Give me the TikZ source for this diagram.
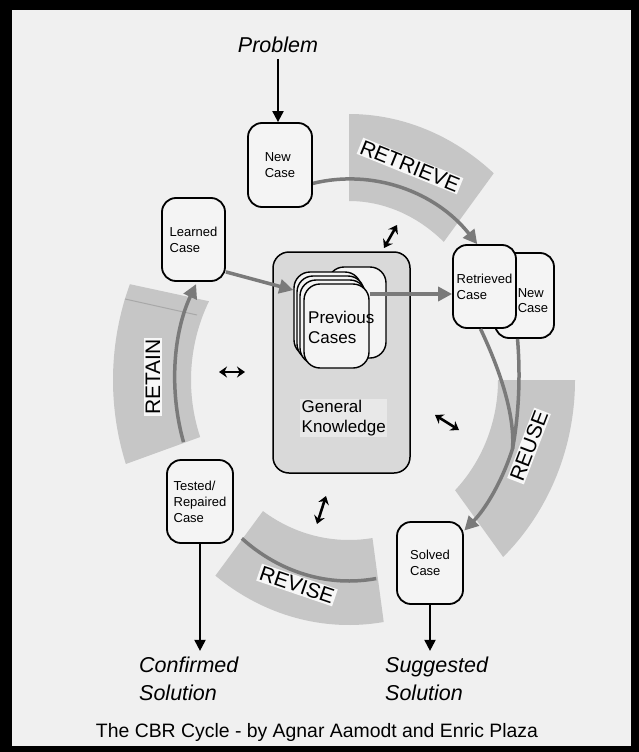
\documentclass[tikz,border=0pt]{standalone}
\usepackage{fontspec}
\setmainfont{Liberation Sans}
\usetikzlibrary{arrows.meta,calc}

\definecolor{pagebg}{HTML}{F0F0F0}
\definecolor{bandgray}{HTML}{C6C6C6}
\definecolor{gkfill}{HTML}{D9D9D9}
\definecolor{gktext}{HTML}{E8E8E8}
\definecolor{flowgray}{HTML}{7A7A7A}
\definecolor{boxfill}{HTML}{F4F4F4}
\definecolor{labelbg}{HTML}{F7F7F7}
\definecolor{seamgray}{HTML}{A8A8A8}

\begin{document}
\begin{tikzpicture}[x=1pt,y=-1pt,
  casebox/.style={draw=black, line width=1.8pt, rounded corners=14pt, fill=boxfill,
    align=left, inner sep=0pt, font=\fontsize{13}{16}\selectfont},
  stack/.style={draw=black, line width=1.4pt, rounded corners=16pt, fill=boxfill, inner sep=0pt},
  band/.style={fill=bandgray, draw=none},
  bandlabel/.style={fill=labelbg, inner sep=1.5pt, font=\fontsize{21}{24}\selectfont},
  flow/.style={draw=flowgray, line width=3.5pt, -{Triangle[length=14pt,width=14pt]}},
  flowline/.style={draw=flowgray, line width=3.5pt},
  blk/.style={draw=black, line width=2pt, -{Triangle[length=11pt,width=11pt]}},
  dbl/.style={draw=black, line width=2.6pt, {Stealth[length=8pt,width=11pt]}-{Stealth[length=8pt,width=11pt]}},
  outtext/.style={font=\fontsize{21.5}{28}\selectfont\itshape, align=left, inner sep=0pt},
  bigtext/.style={font=\fontsize{17}{20}\selectfont, align=left, inner sep=0pt}
]
\useasboundingbox (0,0) rectangle (639,752);

% frame and page
\fill[black] (0,0) rectangle (639,752);
\fill[pagebg] (12,10) rectangle (631,746);

% centre of the cycle
\coordinate (C) at (349,380);

% the four phase bands
\fill[band] ($(C)+(-90:149 and 179)$) arc[start angle=-90, end angle=-50.5, x radius=149, y radius=179]
  -- ($(C)+(-51:230 and 266)$) arc[start angle=-51, end angle=-90, x radius=230, y radius=266] -- cycle;
\fill[band] ($(C)+(0:149 and 157)$) arc[start angle=0, end angle=44.6, x radius=149, y radius=157]
  -- ($(C)+(47:226 and 242)$) arc[start angle=47, end angle=0, x radius=226, y radius=242] -- cycle;
\fill[band] ($(C)+(81:150 and 160)$) arc[start angle=81, end angle=125, x radius=150, y radius=160]
  -- ($(C)+(127:222 and 245)$) arc[start angle=127, end angle=81, x radius=222, y radius=245] -- cycle;
\fill[band] ($(C)+(-152.4:158 and 170)$) arc[start angle=-152.4, end angle=-199.6, x radius=158, y radius=170]
  -- ($(C)+(-199:236 and 258)$) arc[start angle=-199, end angle=-158.2, x radius=236, y radius=258] -- cycle;
\draw[seamgray, line width=1pt] (125,299) -- (197,315);

% general knowledge container
\node[draw=black, line width=1.5pt, rounded corners=16pt, fill=gkfill,
      minimum width=137pt, minimum height=221pt] (gk) at (341.5,362.5) {};
\node[bigtext, anchor=west, fill=gktext, inner sep=1.5pt] (gkt) at (300,418) {General\\Knowledge};

% stack of previous cases
\node[stack, minimum width=58pt, minimum height=91pt] (pcA) at (357,312.5) {};
\node[stack, minimum width=67pt, minimum height=84pt] (pcB) at (327.5,314) {};
\node[stack, minimum width=67pt, minimum height=84pt] (pcC) at (330.5,318) {};
\node[stack, minimum width=66pt, minimum height=84pt] (pcD) at (333,322) {};
\node[stack, minimum width=65pt, minimum height=84pt] (pcE) at (336.5,326) {};
\node[bigtext, anchor=west] (pct) at (308,327) {Previous\\Cases};

% cycle flow arrows
\draw[flow] ($(C)+(-102:174 and 201)$) arc[start angle=-102, end angle=-42.5, x radius=174, y radius=201];
\coordinate (rj) at ($(C)+(20:174 and 201)$);
\draw[flow] (rj) arc[start angle=20, end angle=48.5, x radius=174, y radius=201];
\draw[flowline] ($(C)+(81:174 and 201)$) arc[start angle=81, end angle=128, x radius=174, y radius=201];
\draw[flow] ($(C)+(162:174 and 201)$) arc[start angle=162, end angle=208.5, x radius=174, y radius=201];

% phase labels
\node[bandlabel, rotate=-22] (lretrieve) at (410,166) {RETRIEVE};
\node[bandlabel, rotate=69] (lreuse) at (529,446) {REUSE};
\node[bandlabel, rotate=-18.7] (lrevise) at (297,585) {REVISE};
\node[bandlabel, rotate=90] (lretain) at (153,377) {RETAIN};

% case boxes
\node[casebox, minimum width=59pt, minimum height=85pt] (nc2) at (524.5,295.5) {};
\node[casebox, minimum width=63pt, minimum height=83pt] (rc) at (484.5,286.5) {Retrieved\\Case};
\node[font=\fontsize{13}{15}\selectfont, align=left, inner sep=0pt] (nc2t) at (533,301) {New\\Case};
\node[casebox, minimum width=64pt, minimum height=84pt] (nc) at (280,165) {New\\Case};
\node[casebox, minimum width=63pt, minimum height=83pt] (lc) at (193.5,239.5) {Learned\\Case};
\node[casebox, minimum width=66pt, minimum height=83pt] (tc) at (200,501.5) {Tested/\\Repaired\\Case};
\node[casebox, minimum width=66pt, minimum height=82pt] (sc) at (430,563) {Solved\\Case};

% reuse branches joining into the flow
\draw[flowline] ($(rc.south)+(-4,0)$) .. controls (500,370) and (515,415) .. (rj);
\draw[flowline] ($(nc2.south)+(-7,0)$) .. controls (521,380) and (518,420) .. (rj);

% straight flow arrows through the case base
\draw[flow] (lc.-45) -- (pcB.145);
\coordinate (rin) at ($(rc.west)+(0,7.5)$);
\draw[flow] (pcE.east |- rin) -- (rin);

% inputs and outputs
\node[outtext] (prob) at (278,45) {Problem};
\node[outtext, anchor=west] (conf) at (139,679) {Confirmed\\Solution};
\node[outtext, anchor=west] (sugg) at (385,679) {Suggested\\Solution};
\draw[blk, shorten <=6pt] (prob.south) -- (prob.south |- nc.north);
\draw[blk, shorten >=6pt] (tc.south) -- (tc.south |- conf.north);
\draw[blk, shorten >=6pt] (sc.south) -- (sc.south |- sugg.north);

% knowledge exchange arrows
\draw[dbl] (384,248) -- (397,225);
\draw[dbl] (219,372) -- (245,372);
\draw[dbl] (435,415) -- (459,430);
\draw[dbl] (326,496) -- (317,524);

% caption
\node[font=\fontsize{19.4}{22}\selectfont, inner sep=0pt] (cap) at (317,732)
  {The CBR Cycle - by Agnar Aamodt and Enric Plaza};
\end{tikzpicture}
\end{document}
